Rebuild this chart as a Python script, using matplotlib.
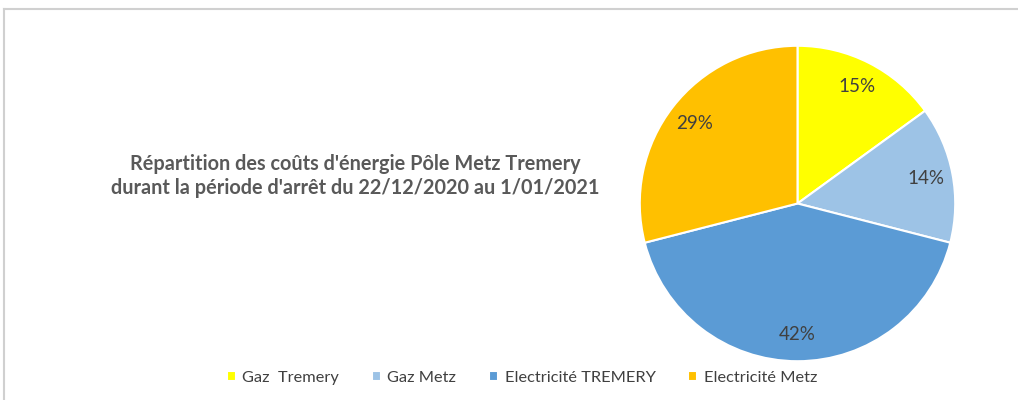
import matplotlib.pyplot as plt
from matplotlib.lines import Line2D

plt.rcParams['font.family'] = ['Lato', 'DejaVu Sans']

### Data:
labels = ['Gaz  Tremery', 'Gaz Metz', 'Electricité TREMERY', 'Electricité Metz']
shares = [15, 14, 42, 29]
colors = ['#FFFF00', '#9DC3E6', '#5B9BD5', '#FFC000']
title = ("Répartition des coûts d'énergie Pôle Metz Tremery\n"
         "durant la période d'arrêt du 22/12/2020 au 1/01/2021")

fig = plt.figure(figsize=(10.18, 4), dpi=100)
fig.patch.set_facecolor('white')

# grey frame (only top and left are visible in the original)
fig.add_artist(Line2D([4 / 1018, 1], [1 - 8.5 / 400, 1 - 8.5 / 400], color='#D0D0D0', lw=1.5))
fig.add_artist(Line2D([4 / 1018, 4 / 1018], [0, 1 - 8.5 / 400], color='#D0D0D0', lw=1.5))

ax = fig.add_axes([639 / 1018, 38 / 400, 317 / 1018, 317 / 400])
wedges, texts, autotexts = ax.pie(shares, colors=colors, startangle=90, counterclock=False,
                                  autopct='%1.0f%%', pctdistance=0.83,
                                  wedgeprops=dict(edgecolor='white', linewidth=1.5),
                                  textprops=dict(color='#404040', fontsize=13.5))
ax.set_xlim(-1.005, 1.005)
ax.set_ylim(-1.005, 1.005)
ax.set_aspect('equal')

fig.text(355 / 1018, 1 - 176 / 400, title, ha='center', va='center', fontsize=14.3,
         fontweight='bold', color='#595959', linespacing=1.3)

fig.legend(wedges, labels, loc='center', bbox_to_anchor=(522 / 1018, 1 - 378 / 400), ncol=4,
           frameon=False, fontsize=11.8, handlelength=0.55, handleheight=0.55,
           handletextpad=0.4, columnspacing=2.0, labelcolor='#404040')

plt.savefig('out.png', dpi=100)
